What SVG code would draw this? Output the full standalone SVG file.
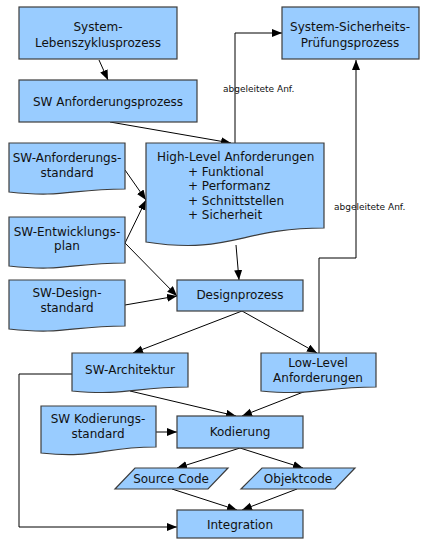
<svg xmlns="http://www.w3.org/2000/svg" width="424" height="541" viewBox="0 0 424 541">
<defs>
<marker id="arr" markerUnits="userSpaceOnUse" markerWidth="12" markerHeight="10" refX="10" refY="4" orient="auto">
<path d="M0,0 L10,4 L0,8 Z" fill="#000"/>
</marker>
<style>
.n{fill:#99ccff;stroke:#3c3c3c;stroke-width:1.2}
.t{font-family:"DejaVu Sans",Verdana,sans-serif;font-size:12px;fill:#111;text-anchor:middle}
.s{font-family:"DejaVu Sans",Verdana,sans-serif;font-size:9px;fill:#111}
.c{fill:none;stroke:#000;stroke-width:1;marker-end:url(#arr)}
.l{fill:none;stroke:#000;stroke-width:1}
</style>
</defs>
<rect width="424" height="541" fill="#fff"/>

<g id="connectors">
<line class="c" x1="99" y1="60" x2="108" y2="80"/>
<line class="c" x1="110" y1="122" x2="231" y2="143"/>
<polyline class="c" points="235,143 235,33 282,33"/>
<line class="c" x1="125" y1="170" x2="146" y2="200"/>
<line class="c" x1="125" y1="243" x2="146" y2="200"/>
<line class="c" x1="125" y1="243" x2="177" y2="296"/>
<line class="c" x1="125" y1="305" x2="177" y2="296"/>
<line class="c" x1="236" y1="245" x2="239" y2="280"/>
<line class="c" x1="242" y1="311" x2="133" y2="353"/>
<line class="c" x1="242" y1="311" x2="317" y2="353"/>
<polyline class="c" points="319,353 319,258 356,258 356,60"/>
<line class="c" x1="130" y1="391" x2="236" y2="416"/>
<line class="c" x1="311" y1="389" x2="242" y2="416"/>
<line class="c" x1="156" y1="432" x2="177" y2="432"/>
<line class="c" x1="240" y1="448" x2="177" y2="468"/>
<line class="c" x1="240" y1="448" x2="303" y2="468"/>
<line class="c" x1="172" y1="489" x2="237" y2="510"/>
<line class="c" x1="297" y1="489" x2="242" y2="510"/>
<polyline class="c" points="72,374 19,374 19,527 177,527"/>
<text class="s" x="223" y="92">abgeleitete Anf.</text>
<text class="s" x="334" y="210">abgeleitete Anf.</text>
</g>

<g id="n-lebenszyklus">
<rect class="n" x="19" y="7" width="158" height="52"/>
<text class="t" x="98" y="31">System-</text>
<text class="t" x="98" y="47">Lebenszyklusprozess</text>
</g>

<g id="n-swanf">
<rect class="n" x="19" y="80" width="178" height="42"/>
<text class="t" x="108" y="106">SW Anforderungsprozess</text>
</g>

<g id="n-sicherheit">
<rect class="n" x="282" y="7" width="137" height="52"/>
<text class="t" x="350" y="31">System-Sicherheits-</text>
<text class="t" x="350" y="47">Prüfungsprozess</text>
</g>

<g id="n-highlevel">
<path class="n" d="M146,143 H324 V228 C240,228 230,255 146,242 Z"/>
<text class="t" x="157" y="161" style="text-anchor:start">High-Level Anforderungen</text>
<text class="t" x="188" y="176" style="text-anchor:start">+ Funktional</text>
<text class="t" x="188" y="190" style="text-anchor:start">+ Performanz</text>
<text class="t" x="188" y="205" style="text-anchor:start">+ Schnittstellen</text>
<text class="t" x="188" y="219" style="text-anchor:start">+ Sicherheit</text>
</g>

<g id="n-anfstd">
<path class="n" d="M9,143 H125 V189 C70,189 65,198 9,192 Z"/>
<text class="t" x="67" y="162">SW-Anforderungs-</text>
<text class="t" x="67" y="177">standard</text>
</g>

<g id="n-entw">
<path class="n" d="M9,217 H125 V263 C70,263 65,272 9,266 Z"/>
<text class="t" x="67" y="236">SW-Entwicklungs-</text>
<text class="t" x="67" y="250">plan</text>
</g>

<g id="n-designstd">
<path class="n" d="M9,280 H125 V326 C70,326 65,335 9,329 Z"/>
<text class="t" x="67" y="297">SW-Design-</text>
<text class="t" x="67" y="312">standard</text>
</g>

<g id="n-design">
<rect class="n" x="177" y="280" width="126" height="31"/>
<text class="t" x="240" y="299">Designprozess</text>
</g>

<g id="n-arch">
<path class="n" d="M72,353 H188 V387 C133,387 128,396 72,391 Z"/>
<text class="t" x="130" y="374">SW-Architektur</text>
</g>

<g id="n-lowlevel">
<path class="n" d="M261,353 H376 V387 C321,387 316,396 261,391 Z"/>
<text class="t" x="318" y="367">Low-Level</text>
<text class="t" x="318" y="382">Anforderungen</text>
</g>

<g id="n-kodstd">
<path class="n" d="M41,406 H156 V447 C101,447 96,459 41,453 Z"/>
<text class="t" x="98" y="423">SW Kodierungs-</text>
<text class="t" x="98" y="438">standard</text>
</g>

<g id="n-kodierung">
<rect class="n" x="177" y="416" width="126" height="32"/>
<text class="t" x="240" y="436">Kodierung</text>
</g>

<g id="n-source">
<path class="n" d="M135,468 H228 L208,489 H115 Z"/>
<text class="t" x="171" y="483">Source Code</text>
</g>

<g id="n-objekt">
<path class="n" d="M262,468 H355 L335,489 H241 Z"/>
<text class="t" x="298" y="483">Objektcode</text>
</g>

<g id="n-integration">
<rect class="n" x="177" y="510" width="126" height="28"/>
<text class="t" x="240" y="529">Integration</text>
</g>
</svg>
